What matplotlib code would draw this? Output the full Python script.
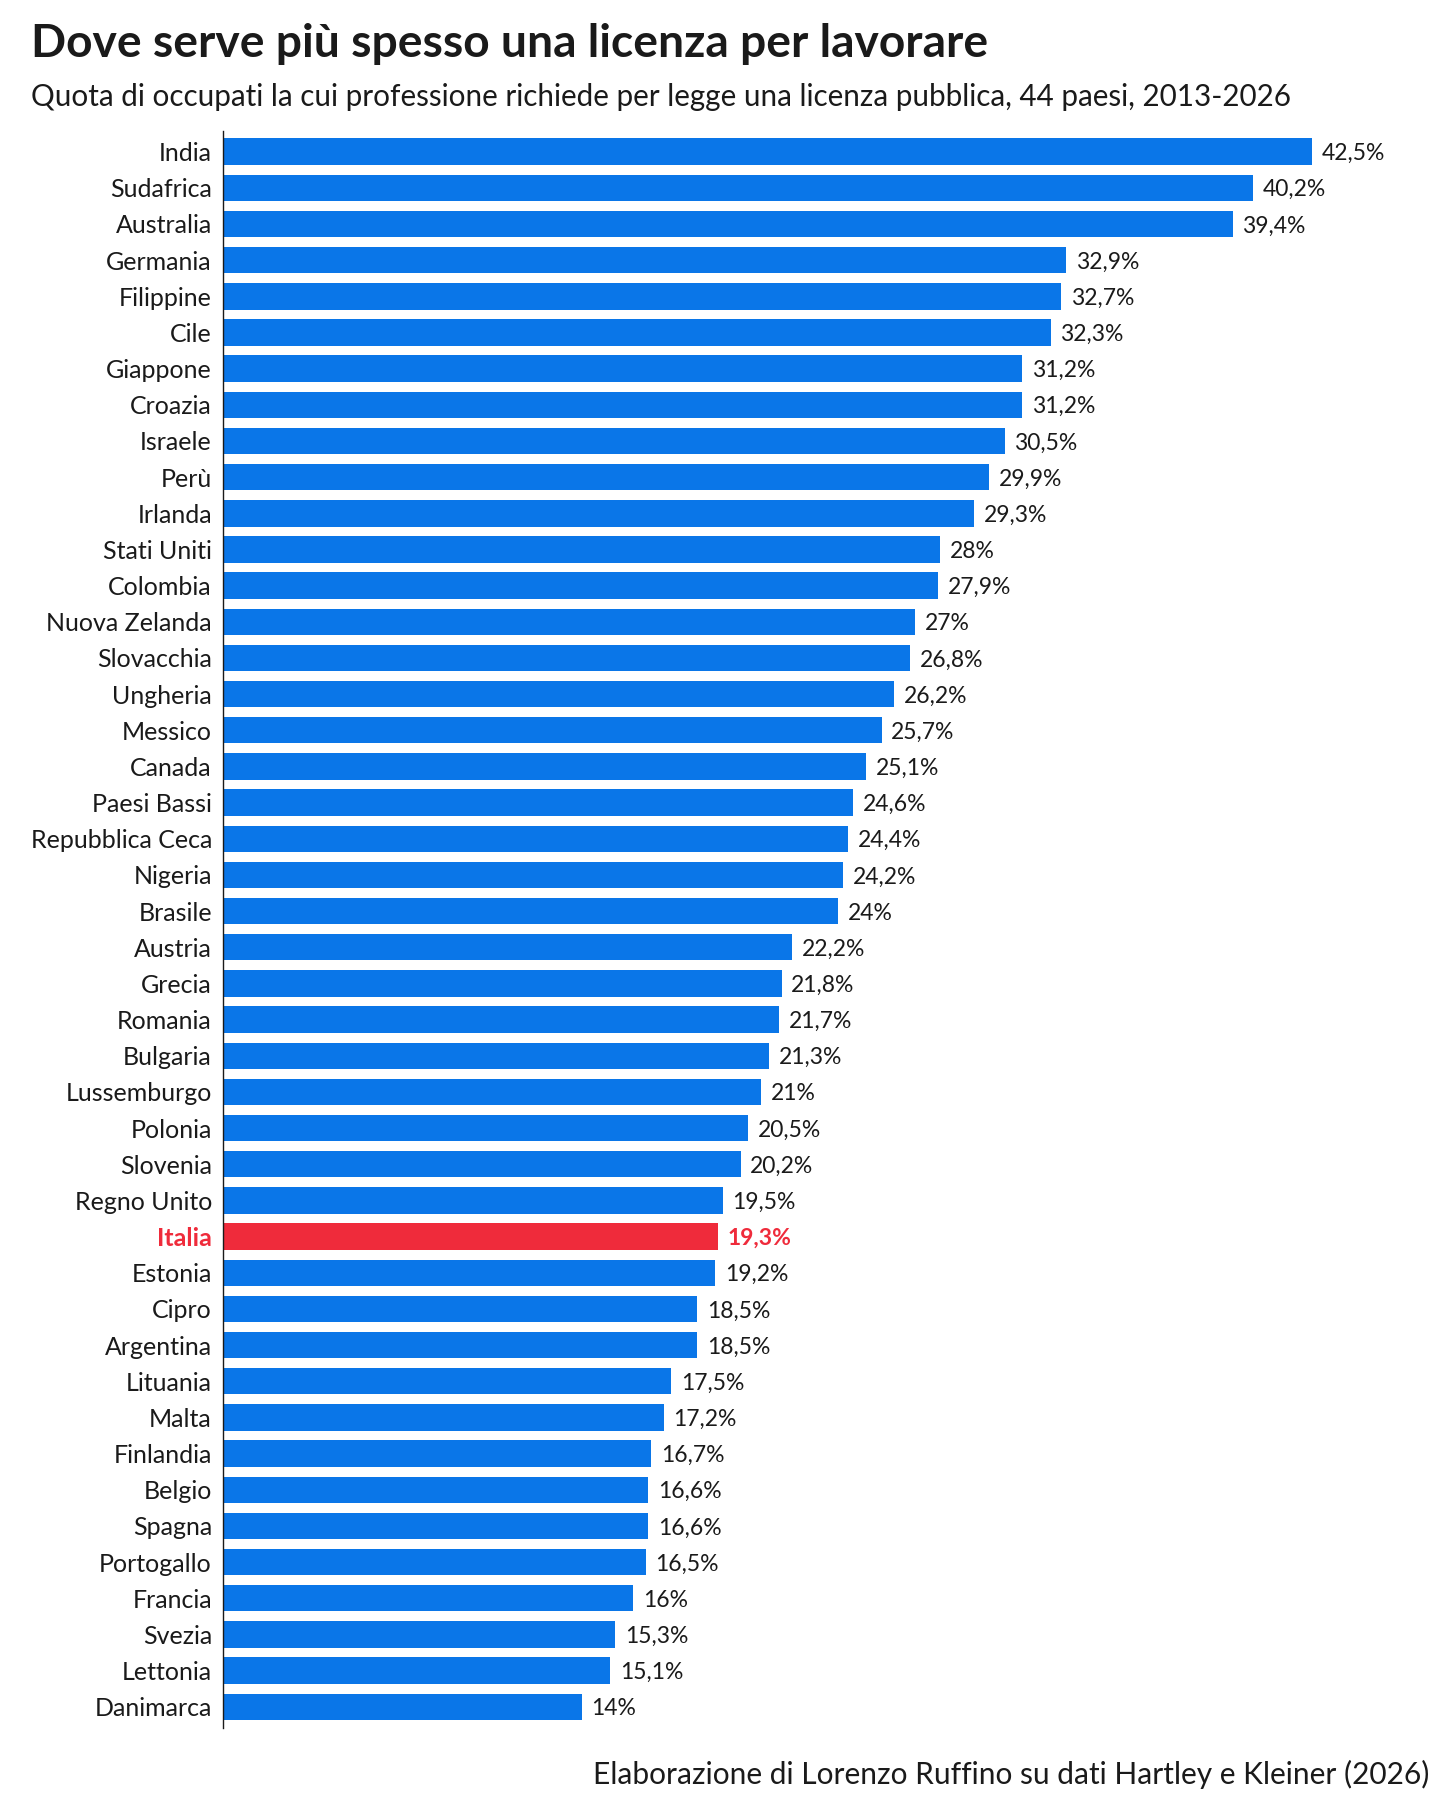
import matplotlib
matplotlib.use("Agg")
import matplotlib.pyplot as plt

plt.rcParams['font.family'] = ['Lato', 'DejaVu Sans']

countries = ["India", "Sudafrica", "Australia", "Germania", "Filippine", "Cile",
             "Giappone", "Croazia", "Israele", "Perù", "Irlanda", "Stati Uniti",
             "Colombia", "Nuova Zelanda", "Slovacchia", "Ungheria", "Messico",
             "Canada", "Paesi Bassi", "Repubblica Ceca", "Nigeria", "Brasile",
             "Austria", "Grecia", "Romania", "Bulgaria", "Lussemburgo", "Polonia",
             "Slovenia", "Regno Unito", "Italia", "Estonia", "Cipro", "Argentina",
             "Lituania", "Malta", "Finlandia", "Belgio", "Spagna", "Portogallo",
             "Francia", "Svezia", "Lettonia", "Danimarca"]
values = [42.5, 40.2, 39.4, 32.9, 32.7, 32.3, 31.2, 31.2, 30.5, 29.9, 29.3, 28.0,
          27.9, 27.0, 26.8, 26.2, 25.7, 25.1, 24.6, 24.4, 24.2, 24.0, 22.2, 21.8,
          21.7, 21.3, 21.0, 20.5, 20.2, 19.5, 19.3, 19.2, 18.5, 18.5, 17.5, 17.2,
          16.7, 16.6, 16.6, 16.5, 16.0, 15.3, 15.1, 14.0]
highlight = "Italia"

BLUE = "#0a76e8"
RED = "#ef2b3b"
TEXT = "#1a1a1a"


def fmt(v):
    s = f"{v:.1f}".replace(".", ",")
    if s.endswith(",0"):
        s = s[:-2]
    return s + "%"


fig = plt.figure(figsize=(14.56, 18.2), dpi=100)
ax = fig.add_axes([0.1532, 0.0505, 0.7919, 0.8777])

colors = [RED if c == highlight else BLUE for c in countries]
ypos = list(range(len(countries)))
ax.barh(ypos, values, height=0.73, color=colors)

for y, v, c in zip(ypos, values, countries):
    bold = c == highlight
    ax.annotate(fmt(v), (v, y), xytext=(7, 0), textcoords="offset points",
                va="center_baseline", ha="left", fontsize=16.5,
                color=RED if bold else TEXT,
                fontweight="bold" if bold else "normal")

ax.set_yticks(ypos)
ax.set_yticklabels(countries, fontsize=18, color=TEXT)
for lab in ax.get_yticklabels():
    if lab.get_text() == highlight:
        lab.set_color(RED)
        lab.set_fontweight("bold")
ax.tick_params(axis="y", length=0, pad=8)
ax.set_xticks([])
ax.set_xlim(0, 45)
ax.set_ylim(43.59, -0.58)

for s in ["top", "right", "bottom"]:
    ax.spines[s].set_visible(False)
ax.spines["left"].set_color(TEXT)
ax.spines["left"].set_linewidth(1)

fig.text(0.0215, 0.9687, "Dove serve più spesso una licenza per lavorare",
         fontsize=33.2, fontweight="bold", color=TEXT, ha="left", va="baseline")
fig.text(0.0215, 0.9418,
         "Quota di occupati la cui professione richiede per legge una licenza pubblica, 44 paesi, 2013-2026",
         fontsize=21.3, color=TEXT, ha="left", va="baseline")
fig.text(0.982, 0.0198, "Elaborazione di Lorenzo Ruffino su dati Hartley e Kleiner (2026)",
         fontsize=21.5, color=TEXT, ha="right", va="baseline")

fig.savefig("out.png", dpi=100, facecolor="white")
